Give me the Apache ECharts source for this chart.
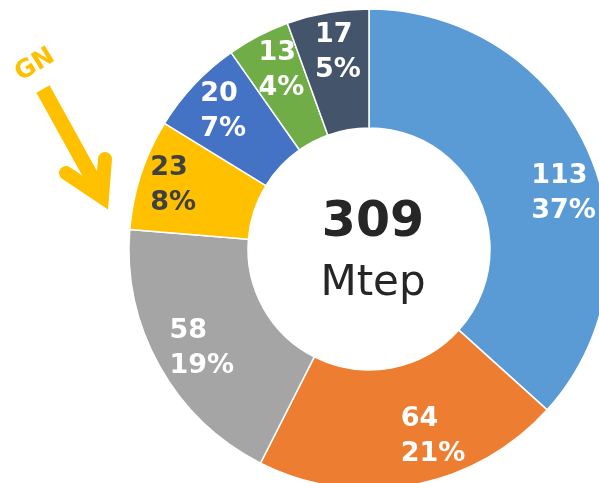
<!DOCTYPE html>
<html>
<head>
<meta charset="utf-8">
<script src="https://cdn.jsdelivr.net/npm/echarts@6/dist/echarts.min.js"></script>
<style>
  html, body { margin: 0; padding: 0; background: #fff; }
  #chart { width: 599px; height: 483px; }
</style>
</head>
<body>
<div id="chart"></div>
<script>
// slices, clockwise from 12 o'clock
const categories = ['Pétrole', 'Électricité', 'Renouvelables', 'Gaz naturel', 'Charbon', 'Bois', 'Autres']
const values = [113, 64, 58, 23, 20, 13, 17]
const percents = [37, 21, 19, 8, 7, 4, 5]
const colors = ['#5B9BD5', '#ED7D31', '#A5A5A5', '#FFC000', '#4472C4', '#70AD47', '#44546A']
const labelColors = ['#fff', '#fff', '#fff', '#404040', '#fff', '#fff', '#fff']
const total = 309
const unit = 'Mtep'

const center = [369, 249]
const font = 'DejaVu Sans'
// small hand nudges of the slice labels (px), like the moved labels of the original
const labelNudge = [[9, 27], [27, -12], [10, 0], [-3, 0], [2, 2], [6, 2], [4, 3]]

const chart = echarts.init(document.getElementById('chart'), null, { renderer: 'canvas' })

const sliceData = categories.map((name, i) => ({
  name,
  value: values[i],
  itemStyle: { color: colors[i] },
}))

const labelData = categories.map((name, i) => ({
  name,
  value: values[i],
  label: {
    formatter: `{v|${values[i]}}\n{v|${percents[i]}%}`,
    rich: {
      v: { color: labelColors[i], fontFamily: font, fontWeight: 'bold', fontSize: 27, lineHeight: 35, align: 'left' },
    },
  },
}))

chart.setOption({
  animation: false,
  series: [
    {
      type: 'pie',
      center,
      radius: [121, 240],
      startAngle: 90,
      clockwise: true,
      silent: true,
      label: { show: false },
      labelLine: { show: false },
      itemStyle: { borderColor: '#fff', borderWidth: 1.5 },
      data: sliceData,
    },
    {
      // transparent ring only used to place the labels further out
      type: 'pie',
      center,
      radius: [160, 240],
      startAngle: 90,
      clockwise: true,
      silent: true,
      itemStyle: { color: 'rgba(0,0,0,0)' },
      label: { show: true, position: 'inside', align: 'center' },
      labelLine: { show: false },
      labelLayout: (params) => ({ dx: labelNudge[params.dataIndex][0], dy: labelNudge[params.dataIndex][1] }),
      data: labelData,
    },
  ],
  graphic: [
    {
      type: 'text',
      x: center[0] + 4,
      y: 223,
      style: { text: String(total), fill: '#262626', font: `bold 49px "${font}"`, align: 'center', verticalAlign: 'middle' },
    },
    {
      type: 'text',
      x: center[0] + 4,
      y: 284,
      style: { text: unit, fill: '#262626', font: `42px "${font}"`, align: 'center', verticalAlign: 'middle' },
    },
    {
      type: 'text',
      x: 35,
      y: 65,
      rotation: 0.55,
      style: { text: 'GN', fill: '#FFC000', font: `bold 25px "${font}"`, align: 'center', verticalAlign: 'middle' },
    },
    {
      type: 'polyline',
      shape: { points: [[43, 89], [101, 194]] },
      style: { stroke: '#FFC000', lineWidth: 15, lineCap: 'butt' },
    },
    {
      type: 'polyline',
      shape: { points: [[66, 173], [102, 197], [105, 159]] },
      style: { stroke: '#FFC000', lineWidth: 14, lineCap: 'round', lineJoin: 'miter', fill: null },
    },
  ],
})
</script>
</body>
</html>
